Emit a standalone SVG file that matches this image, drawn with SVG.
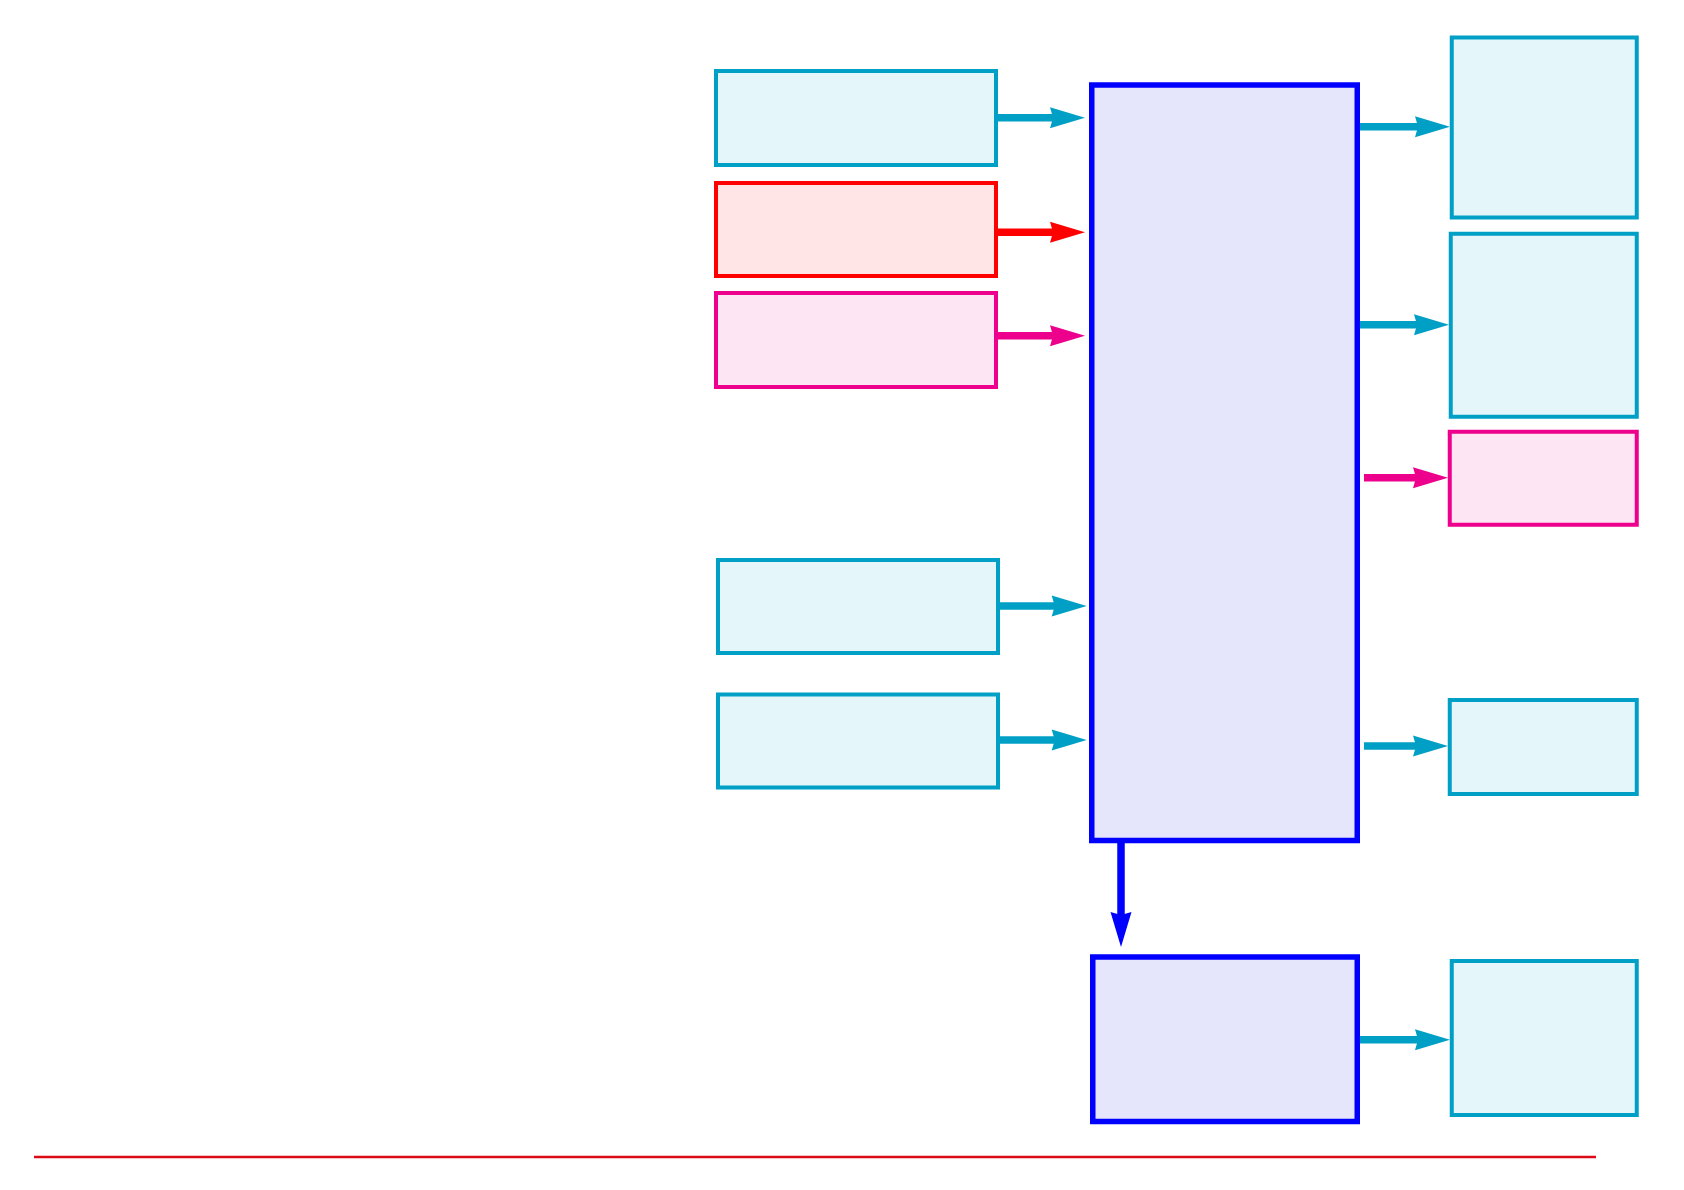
<svg xmlns="http://www.w3.org/2000/svg" width="1684" height="1190" viewBox="0 0 1684 1190">
  <style>
    .cy { fill: #E5F6FA; stroke: #00A0C6; stroke-width: 4; }
    .rd { fill: #FFE5E5; stroke: #FF0000; stroke-width: 4; }
    .mg { fill: #FDE5F3; stroke: #EC008C; stroke-width: 4; }
    .bl { fill: #E5E5FC; stroke: #0000FF; stroke-width: 5.5; }
    .a { fill: none; stroke-width: 7.5; }
    .acy { stroke: #00A0C6; }
    .ard { stroke: #FF0000; }
    .amg { stroke: #EC008C; }
    .abl { stroke: #0000FF; }
  </style>
  <defs>
    <marker id="hcy" markerUnits="userSpaceOnUse" orient="auto" overflow="visible" markerWidth="1" markerHeight="1" refX="0" refY="0">
      <path d="M30,0 L-5,-10.5 L-2,0 L-5,10.5 Z" fill="#00A0C6"/>
    </marker>
    <marker id="hrd" markerUnits="userSpaceOnUse" orient="auto" overflow="visible" markerWidth="1" markerHeight="1" refX="0" refY="0">
      <path d="M30,0 L-5,-10.5 L-2,0 L-5,10.5 Z" fill="#FF0000"/>
    </marker>
    <marker id="hmg" markerUnits="userSpaceOnUse" orient="auto" overflow="visible" markerWidth="1" markerHeight="1" refX="0" refY="0">
      <path d="M30,0 L-5,-10.5 L-2,0 L-5,10.5 Z" fill="#EC008C"/>
    </marker>
    <marker id="hbl" markerUnits="userSpaceOnUse" orient="auto" overflow="visible" markerWidth="1" markerHeight="1" refX="0" refY="0">
      <path d="M30,0 L-5,-10.5 L-2,0 L-5,10.5 Z" fill="#0000FF"/>
    </marker>
  </defs>

  <g id="in1"><rect class="cy" x="716" y="71" width="280" height="94"/></g>
  <g id="in2"><rect class="rd" x="716" y="183" width="280" height="93"/></g>
  <g id="in3"><rect class="mg" x="716" y="293" width="280" height="94"/></g>
  <g id="in4"><rect class="cy" x="718" y="560" width="280" height="93"/></g>
  <g id="in5"><rect class="cy" x="718" y="694.5" width="280" height="93"/></g>
  <g id="main"><rect class="bl" x="1091.75" y="85" width="265.5" height="755.5"/></g>
  <g id="sub"><rect class="bl" x="1092.75" y="957" width="264.5" height="164.5"/></g>
  <g id="out1"><rect class="cy" x="1451.75" y="37.5" width="185" height="180"/></g>
  <g id="out2"><rect class="cy" x="1450.75" y="233.75" width="186" height="183"/></g>
  <g id="out3"><rect class="mg" x="1449.75" y="431.75" width="187" height="93"/></g>
  <g id="out4"><rect class="cy" x="1449.75" y="700" width="187" height="94"/></g>
  <g id="out5"><rect class="cy" x="1451.75" y="961" width="185" height="154"/></g>

  <g id="connectors">
    <line class="a acy" x1="997" y1="117.7" x2="1055" y2="117.7" marker-end="url(#hcy)"/>
    <line class="a ard" x1="997" y1="232.3" x2="1055" y2="232.3" marker-end="url(#hrd)"/>
    <line class="a amg" x1="997" y1="335.7" x2="1055" y2="335.7" marker-end="url(#hmg)"/>
    <line class="a acy" x1="999" y1="606" x2="1056.7" y2="606" marker-end="url(#hcy)"/>
    <line class="a acy" x1="999" y1="740" x2="1056.7" y2="740" marker-end="url(#hcy)"/>
    <line class="a acy" x1="1360" y1="126.7" x2="1420" y2="126.7" marker-end="url(#hcy)"/>
    <line class="a acy" x1="1360" y1="324.7" x2="1419" y2="324.7" marker-end="url(#hcy)"/>
    <line class="a amg" x1="1364" y1="477.7" x2="1418" y2="477.7" marker-end="url(#hmg)"/>
    <line class="a acy" x1="1364" y1="746" x2="1418" y2="746" marker-end="url(#hcy)"/>
    <line class="a acy" x1="1360" y1="1039.7" x2="1420" y2="1039.7" marker-end="url(#hcy)"/>
    <line class="a abl" x1="1121" y1="843" x2="1121" y2="917" marker-end="url(#hbl)"/>
  </g>

  <line x1="34" y1="1157" x2="1596" y2="1157" stroke="#DC0A14" stroke-width="2.5"/>
</svg>
